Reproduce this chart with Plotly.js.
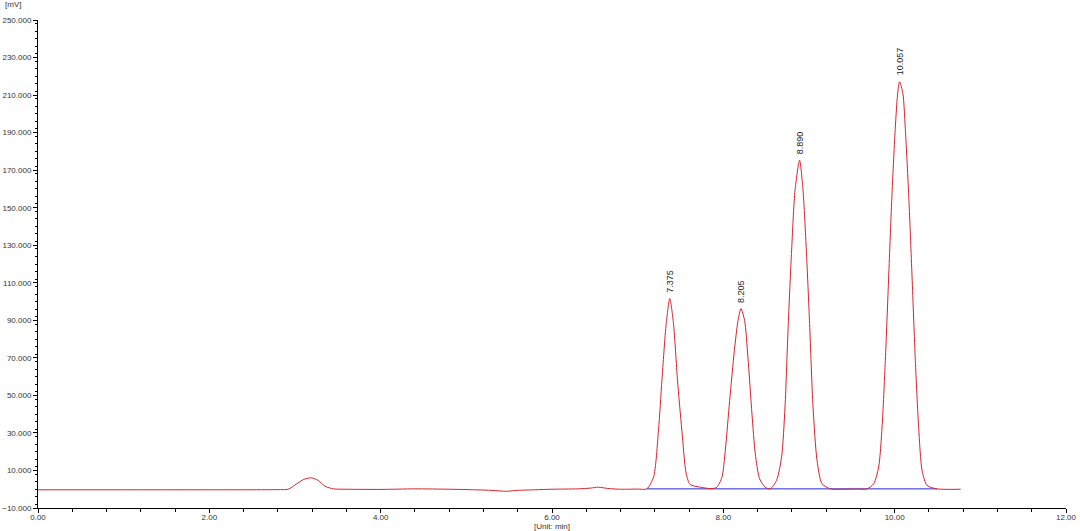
<!DOCTYPE html>
<html>
<head>
<meta charset="utf-8">
<script src="https://cdn.plot.ly/plotly-3.0.1.min.js"></script>
<style>html,body{margin:0;padding:0;background:#fff;}#chart{width:1080px;height:531px;}</style>
</head>
<body>
<div id="chart"></div>
<script>
// Chromatogram trace (time in min, signal in mV)
const timeMin = [0, 1.0, 2.0, 2.8, 2.92, 3.02, 3.10, 3.19, 3.27, 3.35, 3.45, 3.6, 4.0, 4.4, 4.8, 5.1, 5.3, 5.47, 5.6, 5.8, 6.0, 6.3, 6.45, 6.54, 6.65, 6.8, 7.0,
  7.107, 7.185, 7.243, 7.283, 7.333, 7.375, 7.418, 7.465, 7.516, 7.567, 7.613, 7.73, 7.867,
  7.925, 7.984, 8.023, 8.074, 8.129, 8.172, 8.205, 8.248, 8.287, 8.334, 8.373, 8.423, 8.489, 8.548,
  8.621, 8.680, 8.720, 8.758, 8.797, 8.837, 8.890, 8.930, 8.969, 9.007, 9.047, 9.094, 9.152, 9.25, 9.4, 9.55,
  9.677, 9.755, 9.813, 9.853, 9.891, 9.930, 9.969, 10.008, 10.035, 10.057, 10.096, 10.123, 10.163, 10.203, 10.241, 10.280, 10.320, 10.378, 10.495, 10.77];
const signalMv = [-0.3, -0.3, -0.3, -0.2, 0, 2.9, 5.2, 6.1, 4.7, 1.6, 0.2, 0, -0.1, 0.2, 0, -0.3, -0.6, -1.1, -0.6, -0.3, 0, 0.2, 0.6, 1.1, 0.4, 0, 0.1,
  0.2, 6.4, 31.3, 58, 88.2, 101.6, 88.2, 58, 31.3, 8.2, 2.5, 1.1, 0.3,
  1.1, 6.4, 20.7, 47.3, 74, 90, 96.2, 90, 70.4, 40.2, 18.9, 5.6, 1.1, 0.2,
  4.7, 17.1, 43.8, 88.2, 127.3, 159.3, 175.3, 159.3, 127.3, 88.2, 43.8, 15.3, 2.9, 0.2, 0, 0.1,
  0.2, 2.9, 11.8, 33.1, 68.7, 113.1, 157.6, 193.1, 210.9, 217.1, 210.9, 193.1, 157.6, 113.1, 68.7, 33.1, 10, 2, 0.2, 0];

// Integration baseline
const baseTime = [7.107, 10.495];
const baseMv = [0.2, 0.2];

// Peak labels
const peakTimes = [7.375, 8.205, 8.890, 10.057];
const peakHeights = [101.6, 96.2, 175.3, 217.1];
const peakLabels = ["7.375", "8.205", "8.890", "10.057"];

const axisFont = {family: "Liberation Sans, Arial, sans-serif", size: 8, color: "#333"};

const traces = [
  {x: baseTime, y: baseMv, mode: "lines", line: {color: "rgb(40,40,220)", width: 1}, hoverinfo: "skip"},
  {x: timeMin, y: signalMv, mode: "lines", line: {color: "rgb(215,35,45)", width: 1, shape: "spline", smoothing: 0.7}}
];

const annotations = peakTimes.map((t, i) => ({
  x: t, y: peakHeights[i], xref: "x", yref: "y",
  text: peakLabels[i], showarrow: false, textangle: -90,
  xanchor: "center", yanchor: "bottom", yshift: 4,
  font: {family: "Liberation Sans, Arial, sans-serif", size: 9, color: "#222"}
}));
annotations.push({x: 0, y: 1, xref: "paper", yref: "paper", xanchor: "center", yanchor: "bottom",
  xshift: -25, yshift: 9, text: "[mV]", showarrow: false, font: axisFont});
annotations.push({x: 0.5, y: 0, xref: "paper", yref: "paper", xanchor: "center", yanchor: "top",
  yshift: -12, text: "[Unit: min]", showarrow: false, font: axisFont});

const layout = {
  width: 1080, height: 531,
  margin: {l: 38, r: 14, t: 20, b: 23},
  paper_bgcolor: "#fff", plot_bgcolor: "#fff",
  showlegend: false,
  xaxis: {
    range: [0, 12], tick0: 0, dtick: 2, tickformat: ".2f",
    showgrid: false, zeroline: false, showline: true, linecolor: "#000", linewidth: 1,
    ticks: "outside", ticklen: 4, tickcolor: "#000", tickfont: axisFont, ticklabelstandoff: -3,
    minor: {dtick: 0.4, ticks: "outside", ticklen: 3, tickcolor: "#000", showgrid: false}
  },
  yaxis: {
    range: [-10, 250], tick0: -10, dtick: 20, tickformat: ".3f",
    showgrid: false, zeroline: false, showline: true, linecolor: "#000", linewidth: 1,
    ticks: "outside", ticklen: 4, tickcolor: "#000", tickfont: axisFont,
    minor: {dtick: 4, ticks: "outside", ticklen: 2, tickcolor: "#000", showgrid: false}
  },
  annotations: annotations
};

Plotly.newPlot("chart", traces, layout, {displayModeBar: false, staticPlot: true});
</script>
</body>
</html>
